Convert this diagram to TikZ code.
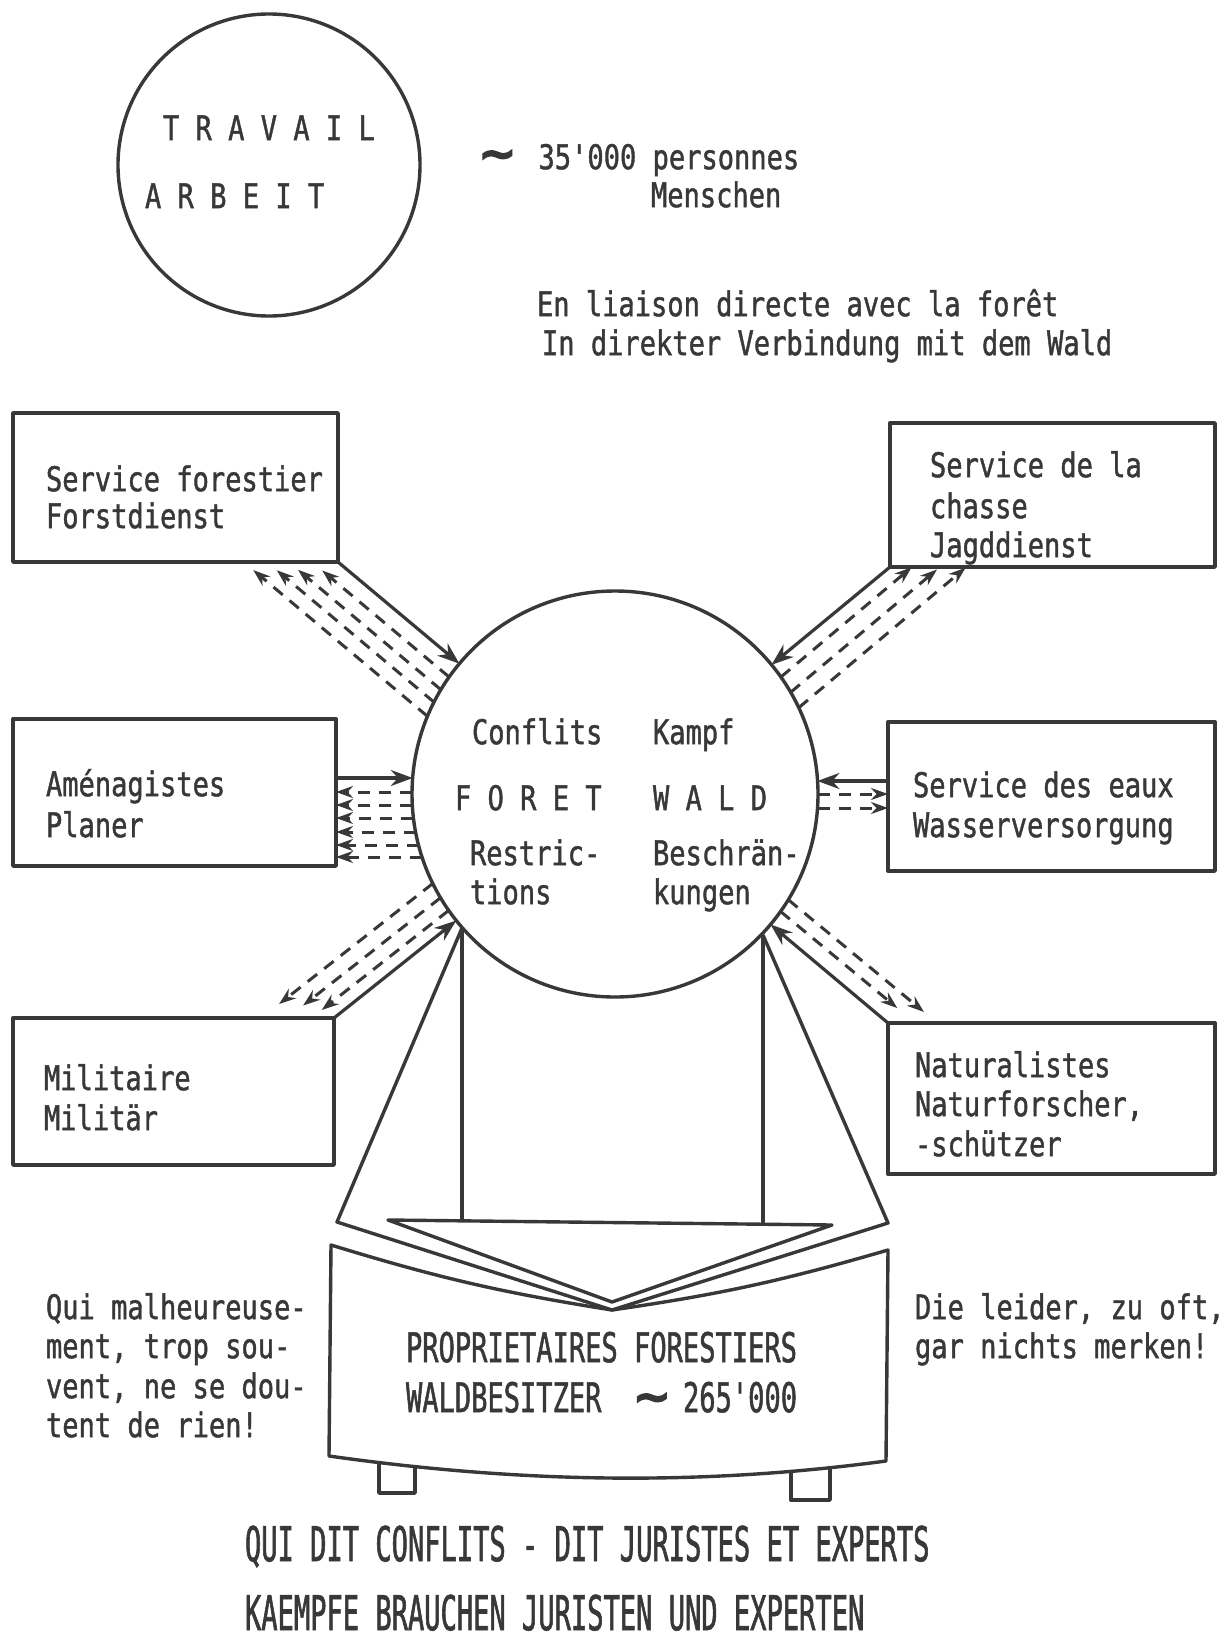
\documentclass[tikz,border=0pt]{standalone}
\usepackage{fontspec}
\usetikzlibrary{arrows.meta}
\newfontfamily\fontA{DejaVu Sans Mono}[FakeStretch=0.796,FakeBold=1.2,Ligatures=TeXOff]
\newfontfamily\fontB{DejaVu Sans Mono}[FakeStretch=0.66,FakeBold=1.2,Ligatures=TeXOff]
\newfontfamily\fontC{DejaVu Sans Mono}[FakeStretch=0.564,FakeBold=1.2,Ligatures=TeXOff]
\newfontfamily\fontW{DejaVu Sans Bold}[FakeBold=2.5]
\newcommand\txtA{\fontA\fontsize{34}{40}\selectfont}
\newcommand\txtB{\fontB\fontsize{41}{48}\selectfont}
\newcommand\txtC{\fontC\fontsize{48}{56}\selectfont}
\newcommand\wavy{{\fontW\fontsize{46}{46}\selectfont ∼}}
\definecolor{ink}{HTML}{383838}
\begin{document}
\begin{tikzpicture}[x=1pt,y=-1pt,
 outl/.style={draw=ink,line width=3.4pt,line join=round},
 box/.style={outl,rectangle,inner sep=0pt,outer sep=0pt,anchor=north west},
 ring/.style={outl,circle,inner sep=0pt,outer sep=0pt},
 solidarrow/.style={draw=ink,line width=3.2pt,-{Stealth[length=22pt,width=16pt]}},
 dasharrow/.style={draw=ink,line width=3pt,dash pattern=on 12pt off 9pt,-{Stealth[length=17pt,width=12pt]}},
 lbl/.style={anchor=mid west,inner sep=0pt,outer sep=0pt,text=ink,font=\txtA,yshift=-10pt},
 lblB/.style={lbl,font=\txtB},
 lblC/.style={lbl,font=\txtC}]
\fill[white] (0,0) rectangle (1225,1646);
\useasboundingbox (0,0) rectangle (1225,1646);

% top circle
\node[ring,minimum size=302pt] (T) at (269,165) {};
\node[lbl] (t1) at (163,128) {T R A V A I L};
\node[lbl] (t2) at (145,196) {A R B E I T};
\node[lbl] (p1) at (478,157) {\wavy\hspace{22pt}35'000 personnes};
\node[lbl] (p2) at (651,195) {Menschen};
\node[lbl] (l1) at (537,304) {En liaison directe avec la forêt};
\node[lbl] (l2) at (542,343) {In direkter Verbindung mit dem Wald};

% boxes
\node[box,minimum width=325pt,minimum height=149pt] (sf) at (13,413) {};
\node[box,minimum width=325pt,minimum height=144pt] (sc) at (890,423) {};
\node[box,minimum width=323pt,minimum height=147pt] (am) at (13,719) {};
\node[box,minimum width=327pt,minimum height=149pt] (se) at (888,722) {};
\node[box,minimum width=321pt,minimum height=147pt] (mi) at (13,1018) {};
\node[box,minimum width=327pt,minimum height=151pt] (na) at (888,1023) {};

\node[lbl] (sf1) at (46,479) {Service forestier};
\node[lbl] (sf2) at (46,516) {Forstdienst};
\node[lbl] (sc1) at (930,465) {Service de la};
\node[lbl] (sc2) at (930,506) {chasse};
\node[lbl] (sc3) at (930,545) {Jagddienst};
\node[lbl] (am1) at (46,784) {Aménagistes};
\node[lbl] (am2) at (46,825) {Planer};
\node[lbl] (se1) at (913,785) {Service des eaux};
\node[lbl] (se2) at (913,825) {Wasserversorgung};
\node[lbl] (mi1) at (44,1078) {Militaire};
\node[lbl] (mi2) at (44,1118) {Militär};
\node[lbl] (na1) at (915,1065) {Naturalistes};
\node[lbl] (na2) at (915,1104) {Naturforscher,};
\node[lbl] (na3) at (915,1144) {-schützer};

% central circle
\node[ring,minimum size=406pt] (F) at (615,794) {};
\node[lbl] (c1) at (472,732) {Conflits};
\node[lbl] (c2) at (653,732) {Kampf};
\node[lbl] (c3) at (455,798) {F O R E T};
\node[lbl] (c4) at (653,798) {W A L D};
\node[lbl] (c5) at (470,853) {Restric-};
\node[lbl] (c6) at (470,892) {tions};
\node[lbl] (c7) at (653,853) {Beschrän-};
\node[lbl] (c8) at (653,892) {kungen};

% radial solid arrows
\draw[solidarrow] (sf.south east) -- (F);
\draw[solidarrow] (sc.south west) -- (F);
\draw[solidarrow] (mi.north east) -- (F);
\draw[solidarrow] (na.north west) -- (F);

% radial dashed arrows
\begin{scope}[shift={(F.center)},rotate=140]
\foreach \h/\L in {-17/368,-32/387,-46/403,-61/421}{
  \pgfmathsetmacro\s{100*sqrt(4.1209-(\h/100)^2)}
  \draw[dasharrow] (\s,\h) -- (\L,\h);}
\end{scope}
\begin{scope}[shift={(F.center)},rotate=40]
\foreach \h/\L in {17/373,35/391,52/414}{
  \pgfmathsetmacro\s{100*sqrt(4.1209-(\h/100)^2)}
  \draw[dasharrow] (\s,\h) -- (\L,\h);}
\end{scope}
\begin{scope}[shift={(F.center)},rotate=218.1]
\foreach \h/\L in {11/364,26/376,42/394}{
  \pgfmathsetmacro\s{100*sqrt(4.1209-(\h/100)^2)}
  \draw[dasharrow] (\s,\h) -- (\L,\h);}
\end{scope}
\begin{scope}[shift={(F.center)},rotate=-39.6]
\foreach \h/\L in {-15/354,-29/377}{
  \pgfmathsetmacro\s{100*sqrt(4.1209-(\h/100)^2)}
  \draw[dasharrow] (\s,\h) -- (\L,\h);}
\end{scope}

% west group
\coordinate (w0) at ([shift={(-202.2,-16)}]F.center);
\draw[solidarrow] (am.east |- w0) -- (w0);
\foreach \dy [count=\i] in {-2,11,24,38,51,63}{
  \pgfmathsetmacro\dx{100*sqrt(4.1209-(\dy/100)^2)}
  \coordinate (w\i) at ([shift={(-\dx,\dy)}]F.center);
  \draw[dasharrow] (w\i) -- (am.east |- w\i);}

% east group
\coordinate (e0) at ([shift={(202.4,-13)}]F.center);
\draw[solidarrow] (se.west |- e0) -- (e0);
\foreach \dy [count=\i] in {0,14}{
  \pgfmathsetmacro\dx{100*sqrt(4.1209-(\dy/100)^2)}
  \coordinate (e\i) at ([shift={(\dx,\dy)}]F.center);
  \draw[dasharrow] (e\i) -- (se.west |- e\i);}

% lower structure (book on bench)
\coordinate (J1) at ([shift={(-153,134)}]F.center);
\coordinate (J2) at ([shift={(148,141)}]F.center);
\coordinate (TL) at (388,1220);
\coordinate (TR) at (832,1225);
\coordinate (TA) at (612,1302);
\coordinate (PL) at (337,1222);
\coordinate (PR) at (888,1223);
\coordinate (VA) at (612,1310);
\coordinate (BL) at (331,1245);
\coordinate (BR) at (888,1250);
\coordinate (BBL) at (329,1456);
\coordinate (BBR) at (886,1461);

\draw[outl] (379,1450) rectangle (415,1493);
\draw[outl] (791,1455) rectangle (830,1500);
\draw[outl,fill=white] (BL) to[bend right=4] (VA) to[bend right=4] (BR) -- (BBR)
   .. controls (700,1486) and (520,1483) .. (BBL) -- cycle;
\draw[outl] (J1) -- (PL) -- (VA) -- (PR) -- (J2);
\draw[outl] (TL) -- (TR) -- (TA) -- cycle;
\draw[outl] (J1) -- (J1 |- TL);
\draw[outl] (J2) -- (J2 |- TR);

\node[lblB] (o1) at (406,1350) {PROPRIETAIRES FORESTIERS};
\node[lblB] (o2) at (406,1400) {WALDBESITZER\hspace{31pt}\wavy\hspace{12pt}265'000};

% side texts
\node[lbl] (q1) at (46,1307) {Qui malheureuse-};
\node[lbl] (q2) at (46,1346) {ment, trop sou-};
\node[lbl] (q3) at (46,1386) {vent, ne se dou-};
\node[lbl] (q4) at (46,1425) {tent de rien!};
\node[lbl] (d1) at (915,1307) {Die leider, zu oft,};
\node[lbl] (d2) at (915,1346) {gar nichts merken!};

% captions
\node[lblC] (k1) at (245,1549) {QUI DIT CONFLITS - DIT JURISTES ET EXPERTS};
\node[lblC] (k2) at (245,1618) {KAEMPFE BRAUCHEN JURISTEN UND EXPERTEN};
\end{tikzpicture}
\end{document}
